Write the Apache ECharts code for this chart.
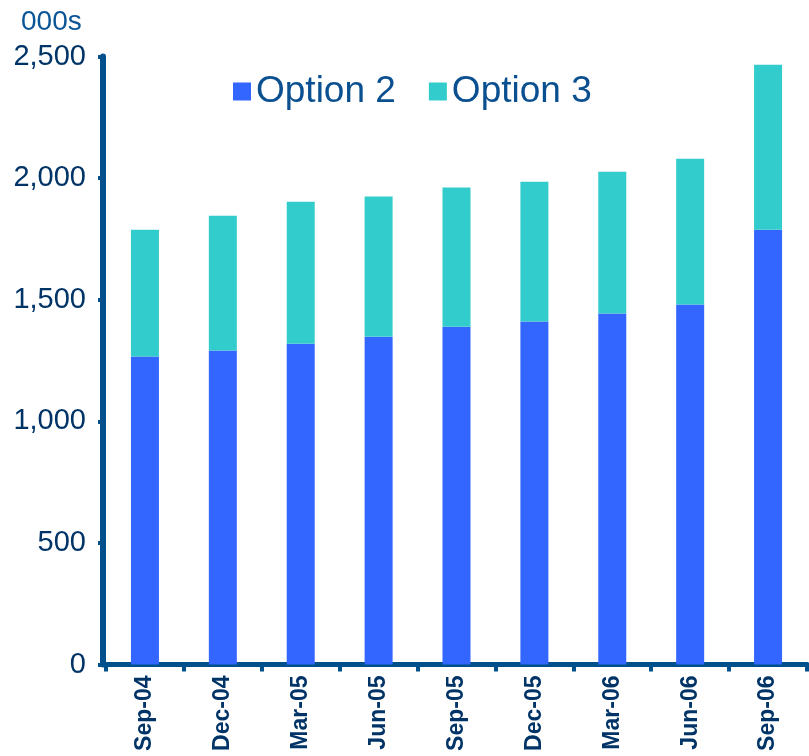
<!DOCTYPE html>
<html>
<head>
<meta charset="utf-8">
<script src="https://cdn.jsdelivr.net/npm/echarts@6/dist/echarts.min.js"></script>
<style>
  html, body { margin: 0; padding: 0; background: #ffffff; }
  #chart { width: 809px; height: 756px; }
</style>
</head>
<body>
<div id="chart"></div>
<script>
// Quarterly figures (thousands)
const quarters = ['Sep-04', 'Dec-04', 'Mar-05', 'Jun-05', 'Sep-05', 'Dec-05', 'Mar-06', 'Jun-06', 'Sep-06'];
const option2 = [1266, 1291, 1319, 1348, 1389, 1410, 1443, 1480, 1788];
const option3 = [522, 554, 584, 576, 572, 575, 583, 600, 678];
const seriesNames = ['Option 2', 'Option 3'];
const unitLabel = '000s';

const axisColor = '#00508c';
const labelColor = '#003366';
const font = '"Liberation Sans", Arial, sans-serif';

const chart = echarts.init(document.getElementById('chart'), null, { renderer: 'canvas' });

chart.setOption({
  animation: false,
  backgroundColor: '#ffffff',
  grid: { left: 106, right: 2, top: 56.5, bottom: 91.5, containLabel: false },
  legend: {
    data: seriesNames,
    left: 228,
    top: 68,
    icon: 'rect',
    itemWidth: 18,
    itemHeight: 18,
    itemGap: 33,
    textStyle: { fontFamily: font, fontSize: 37, color: '#0a4f8f' }
  },
  graphic: [{
    type: 'text',
    left: 21,
    top: 8,
    style: { text: unitLabel, font: '28px ' + font, fill: '#0a5596' }
  }],
  xAxis: {
    type: 'category',
    data: quarters,
    axisLine: { show: true, lineStyle: { color: axisColor, width: 5 } },
    axisTick: { show: true, alignWithLabel: false, length: 7, lineStyle: { color: axisColor, width: 4 } },
    axisLabel: {
      rotate: 90,
      margin: 11,
      fontFamily: font,
      fontSize: 23,
      fontWeight: 'bold',
      color: labelColor
    },
    splitLine: { show: false }
  },
  yAxis: {
    type: 'value',
    min: 0,
    max: 2500,
    interval: 500,
    offset: 3,
    axisLine: { show: true, lineStyle: { color: axisColor, width: 6 } },
    axisTick: { show: true, length: 5, lineStyle: { color: axisColor, width: 4 } },
    axisLabel: {
      margin: 17,
      fontFamily: font,
      fontSize: 29,
      color: labelColor,
      formatter: v => v.toLocaleString('en-US')
    },
    splitLine: { show: false }
  },
  series: [
    {
      name: seriesNames[0],
      type: 'bar',
      stack: 'total',
      barWidth: 28,
      itemStyle: { color: '#3366ff' },
      data: option2
    },
    {
      name: seriesNames[1],
      type: 'bar',
      stack: 'total',
      barWidth: 28,
      itemStyle: { color: '#33cccc' },
      data: option3
    }
  ]
});
</script>
</body>
</html>
